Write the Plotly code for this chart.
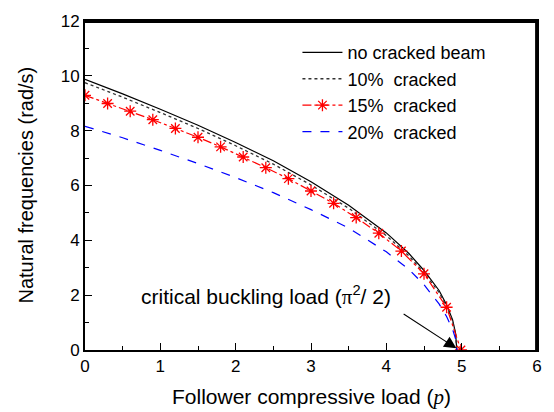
import plotly.graph_objects as go

# ---- data ----
x_grid = [0, 0.5, 1.0, 1.5, 2.0, 2.5, 3.0, 3.5, 4.0, 4.3, 4.5, 4.7, 4.8, 4.88, 4.92, 4.935]
y_nocrack = [9.87, 9.34, 8.78, 8.20, 7.57, 6.90, 6.14, 5.28, 4.27, 3.52, 2.90, 2.17, 1.65, 1.10, 0.60, 0.0]
y_10 = [9.75, 9.22, 8.66, 8.08, 7.45, 6.78, 6.02, 5.17, 4.17, 3.43, 2.82, 2.10, 1.58, 1.05, 0.55, 0.0]
y_20 = [8.16, 7.74, 7.28, 6.80, 6.29, 5.74, 5.12, 4.45, 3.58, 2.94, 2.38, 1.68, 1.22, 0.75, 0.40, 0.0]

x_15 = [0, 0.3, 0.6, 0.9, 1.2, 1.5, 1.8, 2.1, 2.4, 2.7, 3.0, 3.3, 3.6, 3.9, 4.2, 4.5, 4.8, 4.99]
y_15 = [9.29, 8.99, 8.71, 8.40, 8.08, 7.76, 7.41, 7.04, 6.65, 6.25, 5.80, 5.35, 4.83, 4.26, 3.61, 2.78, 1.56, 0.0]

names = ["no cracked beam", "10%\u00a0\u00a0cracked", "15%\u00a0\u00a0cracked", "20%\u00a0\u00a0cracked"]

x_ticks = [0, 1, 2, 3, 4, 5, 6]
y_ticks = [0, 2, 4, 6, 8, 10, 12]

FONT = "Liberation Sans, Arial, sans-serif"

fig = go.Figure()
fig.add_trace(go.Scatter(x=x_grid, y=y_nocrack, mode="lines", name=names[0],
                         line=dict(color="black", width=1.2)))
fig.add_trace(go.Scatter(x=x_grid, y=y_10, mode="lines", name=names[1],
                         line=dict(color="#333333", width=1.3, dash="dot")))
fig.add_trace(go.Scatter(x=x_15, y=y_15, mode="lines+markers", name=names[2],
                         line=dict(color="red", width=1.2, dash="dashdot"),
                         marker=dict(symbol="asterisk-open", size=10,
                                     line=dict(color="red", width=1.3))))
fig.add_trace(go.Scatter(x=x_grid, y=y_20, mode="lines", name=names[3],
                         line=dict(color="blue", width=1.2, dash="dash")))

axis_common = dict(showgrid=False, zeroline=False, showline=True, linecolor="#000000",
                   linewidth=2, mirror=True, ticks="inside", ticklen=7, tickwidth=1.3,
                   tickcolor="black", tickfont=dict(family=FONT, size=17, color="black"),
                   minor=dict(ticks="inside", ticklen=4, tickwidth=1.2, tickcolor="black"))

fig.update_xaxes(range=[0, 6], tickvals=x_ticks, minor_dtick=0.5, **axis_common)
fig.update_yaxes(range=[0, 12], tickvals=y_ticks, minor_dtick=1, **axis_common)

# top and right frame edges, drawn slightly inside the plot area
fig.add_shape(type="line", xref="paper", yref="paper", x0=0, y0=0.997, x1=1, y1=0.997,
              line=dict(color="#000000", width=2), layer="above")
fig.add_shape(type="line", xref="paper", yref="paper", x0=0.998, y0=0, x1=0.998, y1=1,
              line=dict(color="#000000", width=2), layer="above")

fig.add_annotation(x=0.5, y=0, xref="paper", yref="paper", yshift=-47, showarrow=False,
                   text="Follower compressive load (<span style='font-family:Liberation Serif;font-style:italic'>p</span>)",
                   font=dict(family=FONT, size=21, color="black"), yanchor="middle")
fig.add_annotation(x=0, y=0.5, xref="paper", yref="paper", xshift=-60, showarrow=False,
                   text="Natural frequencies (rad/s)", textangle=-90,
                   font=dict(family=FONT, size=20, color="black"), xanchor="center")

fig.add_annotation(x=4.93, y=0.06, ax=4.21, ay=1.35, xref="x", yref="y", axref="x", ayref="y",
                   text="", showarrow=True, arrowhead=2, arrowsize=2.2, arrowwidth=1.1,
                   arrowcolor="black")
fig.add_annotation(x=2.40, y=1.98, xref="x", yref="y", showarrow=False, xanchor="center",
                   text="critical buckling load (<span style='font-family:Liberation Serif'>\u03c0</span><sup>2</sup>/ 2)",
                   font=dict(family=FONT, size=21, color="black"))

fig.update_layout(
    width=554, height=412,
    margin=dict(l=85, r=13, t=12, b=62),
    plot_bgcolor="white", paper_bgcolor="white",
    showlegend=True,
    legend=dict(x=0.47, y=0.96, xanchor="left", yanchor="top", bgcolor="rgba(0,0,0,0)",
                font=dict(family=FONT, size=18, color="black"), tracegroupgap=0,
                itemwidth=40),
)

fig.write_html("out.html", config={"displayModeBar": False},
               post_script="document.body.style.margin='0';")
